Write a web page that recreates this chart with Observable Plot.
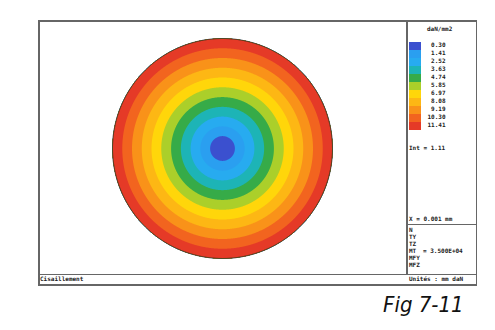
<!DOCTYPE html>
<html><head><meta charset="utf-8">
<script src="https://cdn.jsdelivr.net/npm/d3@7"></script>
<script src="https://cdn.jsdelivr.net/npm/@observablehq/plot@0.6"></script>
<style>
body{margin:0;background:#fff;}
#fig{position:relative;width:495px;height:330px;overflow:hidden;font-family:"DejaVu Sans Mono",monospace;color:#222;}
.ln{position:absolute;background:#666;}
.t{position:absolute;font-size:6px;font-weight:bold;line-height:6px;white-space:pre;}
#disk,#leg{position:absolute;}
#disk{left:39px;top:21px;}
#leg{left:407px;top:21px;}
#figlabel{position:absolute;left:383px;top:292px;font-family:"DejaVu Sans Condensed","DejaVu Sans",sans-serif;font-stretch:condensed;font-style:italic;font-size:22px;color:#111;white-space:pre;}
</style></head><body>
<div id="fig">
  <div class="ln" style="left:38px;top:20px;width:439px;height:1.5px"></div>
  <div class="ln" style="left:38px;top:284px;width:439px;height:1.5px"></div>
  <div class="ln" style="left:38px;top:20px;width:1.5px;height:265px"></div>
  <div class="ln" style="left:475.5px;top:20px;width:1.5px;height:265px"></div>
  <div class="ln" style="left:406px;top:20px;width:1.5px;height:255px"></div>
  <div class="ln" style="left:38px;top:274px;width:439px;height:1.2px"></div>
  <div class="ln" style="left:406px;top:224px;width:70px;height:1.2px"></div>
  <div id="disk"></div>
  <div id="leg"></div>
  <div class="t" style="left:427px;top:26px">daN/mm2</div>
  <div class="t" style="left:409px;top:145px">Int = 1.11</div>
  <div class="t" style="left:409px;top:216px">X = 0.001 mm</div>
  <div id="loads"></div>
  <div class="t" style="left:409px;top:276px">Unités : mm daN</div>
  <div class="t" style="left:40px;top:276px">Cisaillement</div>
  <div id="figlabel">Fig 7-11</div>
</div>
<script>
// Legend levels (daN/mm2), interval 1.11
const levels = [0.30, 1.41, 2.52, 3.63, 4.74, 5.85, 6.97, 8.08, 9.19, 10.30, 11.41];
const colors = ["#3b50cf", "#2a9ff0", "#27abf0", "#1db4b6", "#36ab48", "#abcf2a", "#ffd60a", "#fdb714", "#f99219", "#f2641f", "#e53a27"];
const tauMax = 12.52;   // value at the outer fibre (top of the last class)
const radius = 1;       // normalised section radius
const loadNames = ["N", "TY", "TZ", "MT", "MFY", "MFZ"];
const loadValues = ["", "", "", "= 3.500E+04", "", ""];

const color = {type: "threshold", domain: levels.slice(1), range: colors};
const ext = {x1: -1.03 * radius, x2: 1.03 * radius, y1: -1.03 * radius, y2: 1.03 * radius};
const field = (x, y) => {
  const r = Math.hypot(x, y);
  return r <= radius ? Math.max(levels[0], tauMax * r / radius) : levels[0] - 1.11;
};

const disk = Plot.plot({
  width: 367, height: 253,
  marginLeft: 73, marginRight: 74, marginTop: 17, marginBottom: 16,
  x: {domain: [-radius, radius], axis: null},
  y: {domain: [-radius, radius], axis: null},
  color,
  style: {background: "transparent"},
  marks: [
    Plot.contour({...ext, fill: field, thresholds: levels, pixelSize: 0.5, stroke: "none"}),
    Plot.contour({...ext, value: (x, y) => radius - Math.hypot(x, y), thresholds: [0], pixelSize: 0.5,
      fill: "none", stroke: "#222", strokeWidth: 0.9})
  ]
});
document.getElementById("disk").append(disk);

const leg = Plot.plot({
  width: 68, height: 114,
  marginLeft: 2, marginRight: 54, marginTop: 18, marginBottom: 2.5,
  y: {type: "band", domain: levels, padding: 0, axis: null},
  color,
  style: {background: "transparent"},
  marks: [
    Plot.cell(levels, {y: d => d, fill: d => d}),
    Plot.text(levels, {y: d => d, text: d => d.toFixed(2), frameAnchor: "right", textAnchor: "end",
      dx: 24, dy: -1, fontSize: 6, fontWeight: "bold", fontFamily: "DejaVu Sans Mono", fill: "#222"})
  ]
});
document.getElementById("leg").append(leg);

const loads = document.getElementById("loads");
loadNames.forEach((n, i) => {
  const a = document.createElement("div");
  a.className = "t"; a.style.left = "409px"; a.style.top = (227 + i * 7) + "px"; a.textContent = n;
  loads.append(a);
  if (loadValues[i]) {
    const b = document.createElement("div");
    b.className = "t"; b.style.left = "423px"; b.style.top = (227 + i * 7) + "px"; b.textContent = loadValues[i];
    loads.append(b);
  }
});
</script>
</body></html>
